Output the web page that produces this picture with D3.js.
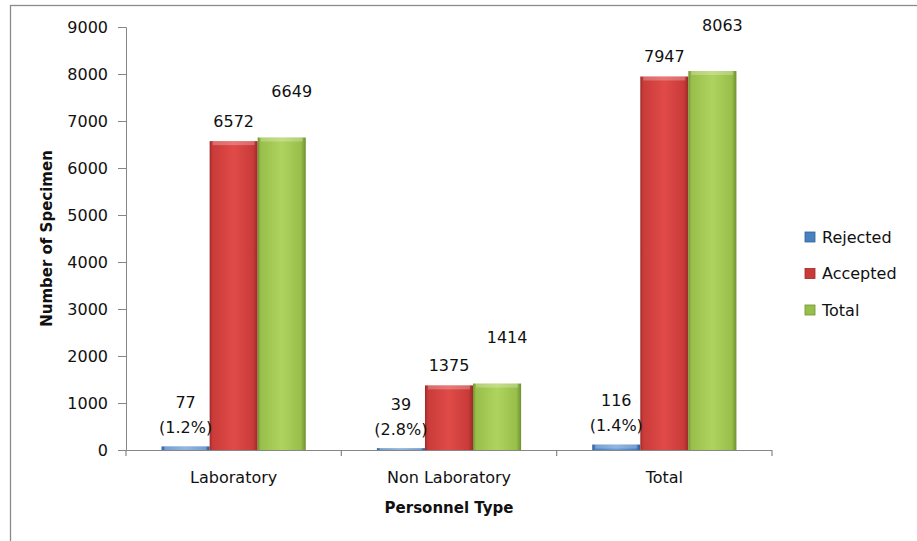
<!DOCTYPE html>
<html>
<head>
<meta charset="utf-8">
<script src="https://cdn.jsdelivr.net/npm/d3@7"></script>
<style>
  body { margin: 0; background: #fff; }
  text { font-family: "DejaVu Sans", sans-serif; fill: #111; }
</style>
</head>
<body>
<script>
// chart values
var categories = ["Laboratory", "Non Laboratory", "Total"];
var seriesNames = ["Rejected", "Accepted", "Total"];
var rejected = [77, 39, 116];
var accepted = [6572, 1375, 7947];
var totals = [6649, 1414, 8063];
var yTicks = [0, 1000, 2000, 3000, 4000, 5000, 6000, 7000, 8000, 9000];

var W = 917, H = 541;
var plotLeft = 126, plotRight = 772, plotTop = 27, plotBottom = 450;

var colors = {
    Rejected: ["#6d9fd6", "#4a7fc0", "#2f5f9c"],
    Accepted: ["#e04b48", "#c93b39", "#9c2a28"],
    Total: ["#afd35f", "#98bf4a", "#6f9130"]
};

var rows = categories.map(function(c, i) {
    return {cat: c, Rejected: rejected[i], Accepted: accepted[i], Total: totals[i]};
});

var svg = d3.select("body").append("svg")
    .attr("width", W).attr("height", H);

// gradients for bevelled bars
var defs = svg.append("defs");
seriesNames.forEach(function(s) {
    var g = defs.append("linearGradient").attr("id", "g" + s)
        .attr("x1", 0).attr("x2", 1).attr("y1", 0).attr("y2", 0);
    g.append("stop").attr("offset", "0%").attr("stop-color", colors[s][2]);
    g.append("stop").attr("offset", "6%").attr("stop-color", colors[s][1]);
    g.append("stop").attr("offset", "50%").attr("stop-color", colors[s][0]);
    g.append("stop").attr("offset", "90%").attr("stop-color", colors[s][1]);
    g.append("stop").attr("offset", "100%").attr("stop-color", colors[s][2]);
});

// outer frame
svg.append("rect")
    .attr("x", 10.5).attr("y", 5.5)
    .attr("width", 1000).attr("height", 1000)
    .attr("fill", "none").attr("stroke", "#8a8a8a").attr("stroke-width", 1.3);

var x0 = d3.scaleBand().domain(categories).range([plotLeft, plotRight]).padding(0);
var x1 = d3.scaleBand().domain(seriesNames).range([0, x0.bandwidth()])
    .paddingInner(0).paddingOuter(0.74);
var y = d3.scaleLinear().domain([0, 9000]).range([plotBottom, plotTop]);

// y axis
var yAxis = svg.append("g")
    .attr("transform", "translate(" + plotLeft + ",0)")
    .call(d3.axisLeft(y).tickValues(yTicks).tickSize(8).tickPadding(10).tickFormat(d3.format("d")));
yAxis.selectAll("path, line").attr("stroke", "#868686");
yAxis.selectAll("text").style("font-size", "16px").attr("fill", "#111");

// bars
var groups = svg.append("g").selectAll("g")
    .data(rows).join("g")
    .attr("transform", function(d) { return "translate(" + x0(d.cat) + ",0)"; });

function barData(d) {
    return seriesNames.map(function(s) { return {key: s, value: d[s]}; });
}

groups.selectAll("rect.bar")
    .data(barData)
    .join("rect").attr("class", "bar")
    .attr("x", function(d) { return x1(d.key); })
    .attr("width", x1.bandwidth())
    .attr("y", function(d) { return y(d.value); })
    .attr("height", function(d) { return y(0) - y(d.value); })
    .attr("fill", function(d) { return "url(#g" + d.key + ")"; });

// top bevel highlight
groups.selectAll("rect.hl")
    .data(barData)
    .join("rect").attr("class", "hl")
    .attr("x", function(d) { return x1(d.key) + 3; })
    .attr("width", x1.bandwidth() - 6)
    .attr("y", function(d) { return y(d.value); })
    .attr("height", function(d) { return Math.min(4, y(0) - y(d.value)); })
    .attr("fill", "#fff").attr("opacity", 0.25);

// x axis line with ticks at band edges
svg.append("line")
    .attr("x1", plotLeft).attr("x2", plotRight)
    .attr("y1", plotBottom + 0.5).attr("y2", plotBottom + 0.5)
    .attr("stroke", "#868686").attr("stroke-width", 1.2);
var edges = categories.map(function(c) { return x0(c); }).concat([plotRight]);
svg.append("g").selectAll("line")
    .data(edges).join("line")
    .attr("x1", function(d) { return d; }).attr("x2", function(d) { return d; })
    .attr("y1", plotBottom).attr("y2", plotBottom + 6)
    .attr("stroke", "#868686").attr("stroke-width", 1.2);

svg.append("g").selectAll("text")
    .data(categories).join("text")
    .attr("x", function(d) { return x0(d) + x0.bandwidth() / 2; })
    .attr("y", 477).attr("dy", "0.35em")
    .attr("text-anchor", "middle").style("font-size", "16px")
    .text(function(d) { return d; });

// value labels
var pct = d3.format(".1%");
rows.forEach(function(d) {
    var gx = x0(d.cat);
    var rx = gx + x1("Rejected") + x1.bandwidth() / 2;
    svg.append("text").attr("x", rx).attr("y", y(d.Rejected) - 44).attr("dy", "0.35em")
        .attr("text-anchor", "middle").style("font-size", "16px").text(d.Rejected);
    svg.append("text").attr("x", rx).attr("y", y(d.Rejected) - 19).attr("dy", "0.35em")
        .attr("text-anchor", "middle").style("font-size", "16px")
        .text("(" + pct(d.Rejected / d.Total) + ")");
    svg.append("text").attr("x", gx + x1("Accepted") + x1.bandwidth() / 2)
        .attr("y", y(d.Accepted) - 20).attr("dy", "0.35em")
        .attr("text-anchor", "middle").style("font-size", "16px").text(d.Accepted);
    svg.append("text").attr("x", gx + x1("Total") + x1.bandwidth() / 2 + 10)
        .attr("y", y(d.Total) - 46).attr("dy", "0.35em")
        .attr("text-anchor", "middle").style("font-size", "16px").text(d.Total);
});

// axis titles
svg.append("text")
    .attr("transform", "translate(47," + ((plotTop + plotBottom) / 2) + ") rotate(-90)")
    .attr("text-anchor", "middle").attr("dy", "0.35em")
    .style("font-size", "15px").style("font-weight", "bold")
    .text("Number of Specimen");
svg.append("text")
    .attr("x", (plotLeft + plotRight) / 2).attr("y", 508).attr("dy", "0.35em")
    .attr("text-anchor", "middle")
    .style("font-size", "15px").style("font-weight", "bold")
    .text("Personnel Type");

// legend
var legend = svg.append("g").selectAll("g")
    .data(seriesNames).join("g")
    .attr("transform", function(d, i) { return "translate(805," + (237 + i * 36.5) + ")"; });
legend.append("rect")
    .attr("x", 0).attr("y", -5).attr("width", 10).attr("height", 10)
    .attr("fill", function(d) { return colors[d][1]; })
    .attr("stroke", function(d) { return colors[d][2]; }).attr("stroke-width", 0.8);
legend.append("text")
    .attr("x", 17).attr("dy", "0.35em")
    .style("font-size", "16px")
    .text(function(d) { return d; });
</script>
</body>
</html>
